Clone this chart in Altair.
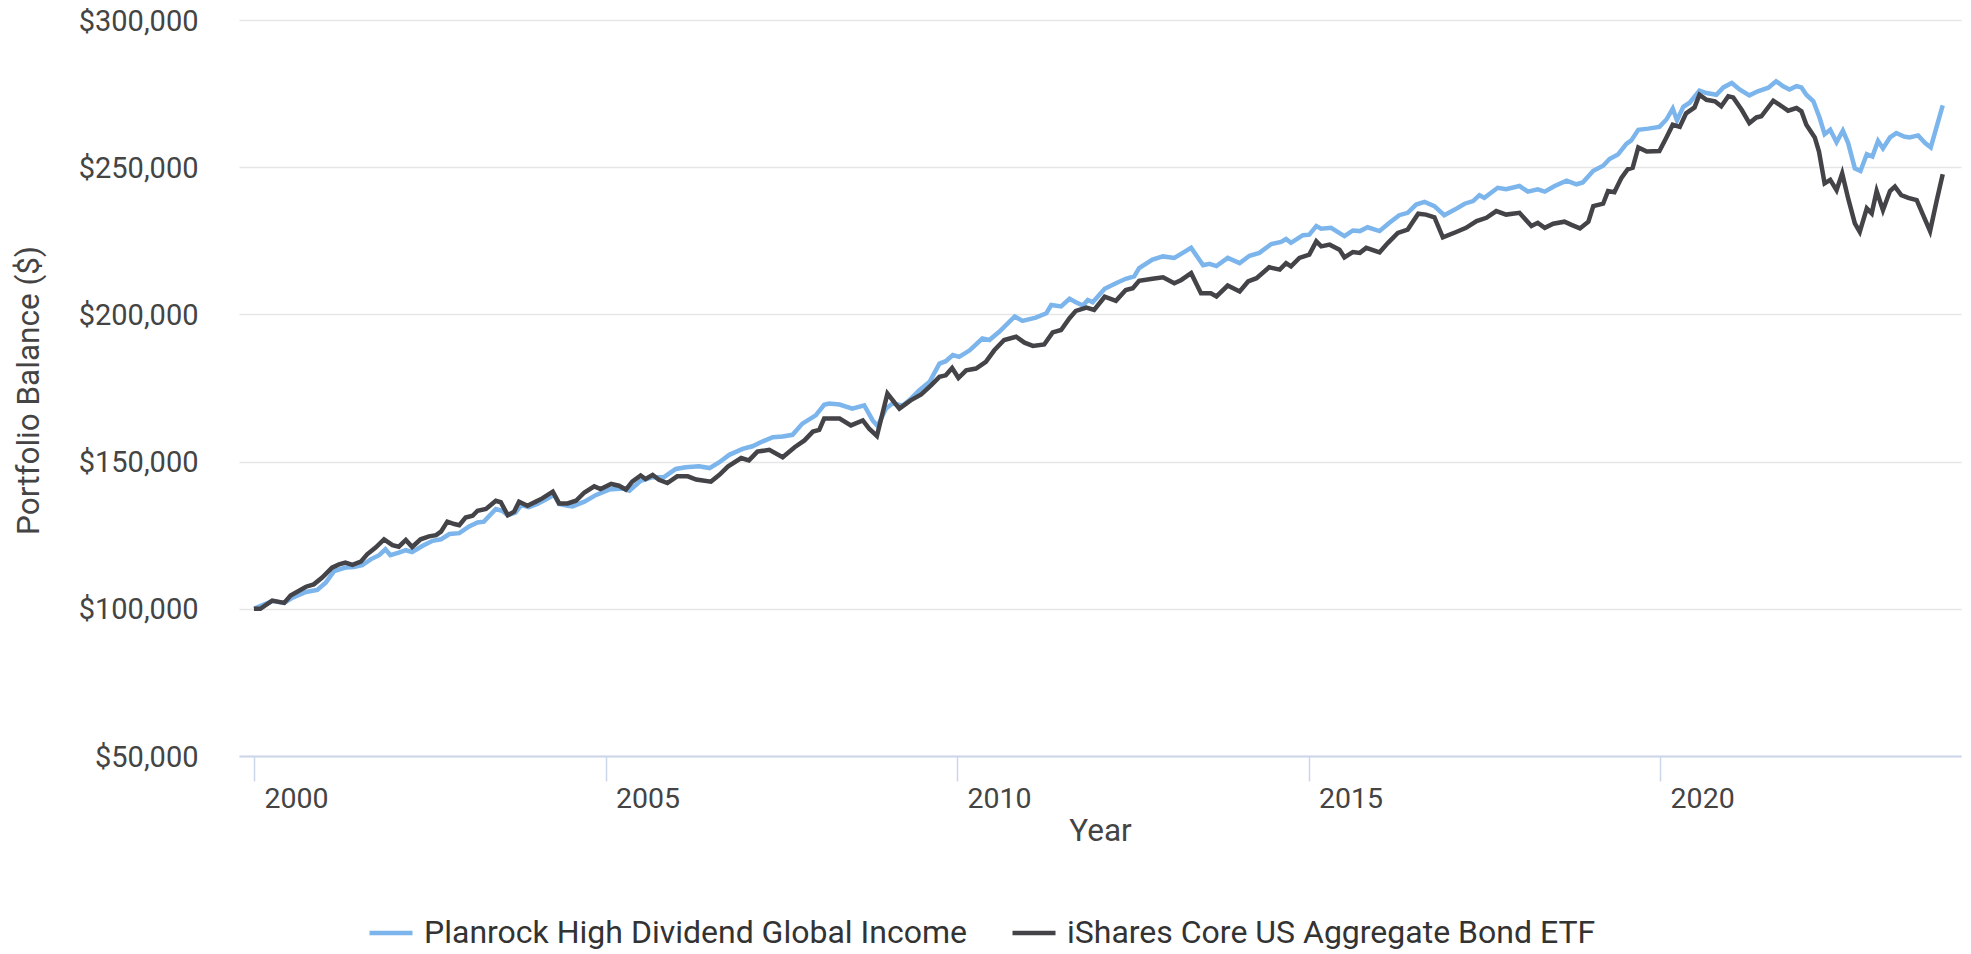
import altair as alt
import pandas as pd

SERIES = ["Planrock High Dividend Global Income", "iShares Core US Aggregate Bond ETF"]
COLORS = ["#7cb5ec", "#434348"]

# Planrock High Dividend Global Income (decimal year, balance in $ thousands)
planrock_years = [
    2000.00, 2000.26, 2000.43, 2000.55, 2000.74, 2000.90, 2001.02, 2001.14, 2001.30, 2001.42,
    2001.54, 2001.66, 2001.78, 2001.87, 2001.94, 2002.06, 2002.16, 2002.25, 2002.40, 2002.54,
    2002.66, 2002.78, 2002.92, 2003.06, 2003.18, 2003.27, 2003.44, 2003.53, 2003.61, 2003.72,
    2003.80, 2003.91, 2004.03, 2004.15, 2004.27, 2004.34, 2004.46, 2004.53, 2004.70, 2004.86,
    2005.05, 2005.24, 2005.34, 2005.50, 2005.67, 2005.83, 2006.00, 2006.14, 2006.33, 2006.48,
    2006.62, 2006.76, 2006.95, 2007.09, 2007.23, 2007.38, 2007.52, 2007.66, 2007.80, 2007.99,
    2008.11, 2008.18, 2008.33, 2008.51, 2008.68, 2008.80, 2008.87, 2008.99, 2009.08, 2009.23,
    2009.32, 2009.46, 2009.61, 2009.75, 2009.84, 2009.94, 2010.03, 2010.18, 2010.36, 2010.46,
    2010.60, 2010.82, 2010.93, 2011.12, 2011.27, 2011.34, 2011.48, 2011.60, 2011.69, 2011.79,
    2011.86, 2011.93, 2012.10, 2012.26, 2012.40, 2012.52, 2012.59, 2012.78, 2012.93, 2013.09,
    2013.21, 2013.33, 2013.50, 2013.59, 2013.69, 2013.85, 2014.02, 2014.16, 2014.30, 2014.47,
    2014.61, 2014.68, 2014.75, 2014.92, 2015.01, 2015.11, 2015.18, 2015.32, 2015.51, 2015.63,
    2015.73, 2015.84, 2016.01, 2016.15, 2016.29, 2016.41, 2016.53, 2016.65, 2016.79, 2016.93,
    2017.08, 2017.22, 2017.34, 2017.43, 2017.50, 2017.69, 2017.81, 2018.00, 2018.12, 2018.26,
    2018.36, 2018.50, 2018.67, 2018.81, 2018.90, 2019.05, 2019.19, 2019.28, 2019.40, 2019.52,
    2019.59, 2019.69, 2019.83, 2019.99, 2020.09, 2020.18, 2020.24, 2020.33, 2020.42, 2020.56,
    2020.66, 2020.80, 2020.90, 2021.02, 2021.13, 2021.27, 2021.39, 2021.54, 2021.65, 2021.75,
    2021.84, 2021.94, 2022.01, 2022.08, 2022.18, 2022.27, 2022.34, 2022.42, 2022.51, 2022.60,
    2022.675, 2022.77, 2022.85, 2022.94, 2023.02, 2023.10, 2023.17, 2023.27, 2023.36, 2023.47,
    2023.55, 2023.67, 2023.77, 2023.85, 2024.02,
]
planrock_k = [
    100.0, 102.6, 102.0, 103.8, 105.7, 106.4, 108.9, 112.8, 114.0, 114.2,
    114.8, 116.8, 118.2, 120.2, 118.2, 119.1, 119.9, 119.3, 121.4, 123.1,
    123.6, 125.4, 125.7, 128.0, 129.3, 129.6, 133.9, 133.3, 131.8, 132.7,
    135.2, 134.5, 135.6, 137.1, 138.7, 135.6, 135.0, 134.8, 136.4, 138.6,
    140.5, 140.9, 140.1, 143.5, 144.7, 144.7, 147.5, 148.1, 148.4, 147.8,
    149.8, 152.3, 154.3, 155.2, 156.8, 158.3, 158.5, 159.1, 162.9, 165.7,
    169.3, 169.7, 169.4, 168.0, 169.1, 164.0, 162.1, 168.0, 169.7, 169.1,
    170.8, 174.2, 177.1, 183.3, 184.1, 186.2, 185.6, 187.8, 191.8, 191.3,
    194.1, 199.3, 197.8, 198.9, 200.4, 203.2, 202.7, 205.3, 204.1, 203.0,
    204.9, 204.1, 208.7, 210.6, 212.1, 212.9, 215.7, 218.6, 219.7, 219.2,
    220.9, 222.6, 216.7, 217.2, 216.4, 219.2, 217.4, 219.9, 220.9, 223.9,
    224.6, 225.6, 224.3, 226.9, 227.1, 230.0, 229.1, 229.4, 226.6, 228.5,
    228.3, 229.6, 228.3, 231.1, 233.7, 234.5, 237.3, 238.2, 236.8, 233.7,
    235.6, 237.6, 238.5, 240.5, 239.6, 243.0, 242.5, 243.6, 241.7, 242.5,
    241.7, 243.6, 245.4, 244.2, 244.8, 248.8, 250.5, 252.8, 254.3, 257.9,
    259.1, 262.7, 263.1, 263.7, 266.2, 269.9, 265.9, 270.5, 271.9, 276.0,
    275.2, 274.6, 277.1, 278.6, 276.4, 274.4, 275.8, 277.0, 279.2, 277.5,
    276.4, 277.5, 277.1, 274.6, 272.4, 266.7, 261.2, 262.7, 258.5, 262.4,
    258.2, 249.6, 248.7, 254.4, 253.6, 258.9, 256.4, 260.1, 261.6, 260.4,
    260.1, 260.8, 258.2, 256.7, 271.0,
]

# iShares Core US Aggregate Bond ETF (decimal year, balance in $ thousands)
ishares_years = [
    2000.00, 2000.09, 2000.26, 2000.43, 2000.52, 2000.74, 2000.85, 2000.97, 2001.11, 2001.21,
    2001.30, 2001.40, 2001.52, 2001.61, 2001.73, 2001.85, 2001.97, 2002.06, 2002.16, 2002.25,
    2002.37, 2002.49, 2002.59, 2002.66, 2002.75, 2002.85, 2002.92, 2003.01, 2003.11, 2003.18,
    2003.30, 2003.44, 2003.51, 2003.61, 2003.70, 2003.77, 2003.89, 2004.01, 2004.10, 2004.25,
    2004.34, 2004.46, 2004.58, 2004.70, 2004.84, 2004.93, 2005.08, 2005.19, 2005.29, 2005.38,
    2005.50, 2005.57, 2005.67, 2005.76, 2005.88, 2006.02, 2006.17, 2006.29, 2006.50, 2006.62,
    2006.74, 2006.93, 2007.04, 2007.16, 2007.33, 2007.52, 2007.69, 2007.83, 2007.95, 2008.04,
    2008.11, 2008.23, 2008.33, 2008.49, 2008.66, 2008.75, 2008.86, 2009.01, 2009.18, 2009.34,
    2009.49, 2009.63, 2009.75, 2009.84, 2009.93, 2010.02, 2010.13, 2010.27, 2010.41, 2010.53,
    2010.67, 2010.84, 2010.96, 2011.08, 2011.24, 2011.36, 2011.48, 2011.60, 2011.69, 2011.84,
    2011.95, 2012.10, 2012.26, 2012.40, 2012.50, 2012.59, 2012.78, 2012.93, 2013.09, 2013.19,
    2013.33, 2013.47, 2013.61, 2013.69, 2013.85, 2014.02, 2014.14, 2014.26, 2014.44, 2014.59,
    2014.68, 2014.75, 2014.87, 2015.01, 2015.11, 2015.18, 2015.30, 2015.44, 2015.51, 2015.63,
    2015.73, 2015.82, 2016.01, 2016.13, 2016.27, 2016.41, 2016.56, 2016.67, 2016.79, 2016.91,
    2017.10, 2017.24, 2017.39, 2017.53, 2017.67, 2017.81, 2018.00, 2018.17, 2018.26, 2018.36,
    2018.48, 2018.64, 2018.74, 2018.86, 2018.98, 2019.05, 2019.19, 2019.26, 2019.35, 2019.45,
    2019.54, 2019.61, 2019.69, 2019.81, 2019.99, 2020.09, 2020.18, 2020.28, 2020.37, 2020.49,
    2020.56, 2020.66, 2020.78, 2020.87, 2020.97, 2021.04, 2021.16, 2021.27, 2021.37, 2021.44,
    2021.61, 2021.73, 2021.82, 2021.94, 2022.01, 2022.08, 2022.20, 2022.26, 2022.34, 2022.42,
    2022.51, 2022.59, 2022.675, 2022.77, 2022.84, 2022.94, 2023.01, 2023.08, 2023.17, 2023.27,
    2023.34, 2023.43, 2023.53, 2023.65, 2023.72, 2023.84, 2023.93, 2024.02,
]
ishares_k = [
    100.0, 100.0, 102.8, 102.0, 104.5, 107.5, 108.3, 110.6, 114.0, 115.1,
    115.7, 114.9, 116.0, 118.5, 120.8, 123.6, 121.6, 121.1, 123.4, 121.0,
    123.6, 124.6, 125.0, 126.2, 129.6, 128.8, 128.4, 131.0, 131.6, 133.3,
    133.9, 136.7, 136.2, 131.8, 133.0, 136.4, 135.0, 136.4, 137.5, 139.8,
    135.8, 135.8, 136.7, 139.5, 141.6, 140.7, 142.4, 141.8, 140.5, 143.2,
    145.3, 144.1, 145.5, 143.8, 142.7, 145.0, 145.0, 143.9, 143.2, 145.5,
    148.3, 151.2, 150.4, 153.4, 154.0, 151.5, 154.9, 157.2, 160.2, 160.8,
    164.6, 164.6, 164.6, 162.3, 164.0, 161.2, 158.7, 173.1, 168.0, 170.8,
    172.8, 175.9, 178.8, 179.3, 181.8, 178.4, 181.0, 181.6, 183.9, 187.8,
    191.3, 192.4, 190.4, 189.3, 189.8, 193.9, 194.7, 198.7, 201.2, 202.3,
    201.5, 206.0, 204.6, 208.3, 208.9, 211.4, 212.1, 212.6, 210.6, 211.7,
    214.0, 207.2, 207.2, 206.1, 209.8, 207.8, 211.2, 212.3, 216.0, 215.2,
    217.4, 216.3, 219.2, 220.3, 224.8, 223.1, 223.7, 222.0, 219.4, 221.2,
    220.9, 222.6, 221.1, 224.3, 227.7, 228.8, 234.2, 233.9, 233.0, 226.2,
    228.0, 229.4, 231.7, 232.8, 235.1, 233.9, 234.5, 230.0, 231.1, 229.4,
    230.8, 231.5, 230.4, 229.2, 231.5, 236.8, 237.6, 241.9, 241.5, 246.4,
    249.3, 249.8, 256.7, 255.3, 255.5, 260.1, 264.4, 263.7, 268.3, 270.3,
    274.6, 272.9, 272.4, 270.7, 274.1, 273.7, 269.5, 265.0, 266.9, 267.3,
    272.6, 270.7, 269.2, 270.1, 269.0, 264.4, 260.1, 255.3, 244.5, 245.7,
    242.2, 247.9, 239.4, 230.9, 228.0, 236.0, 234.3, 241.9, 235.4, 241.9,
    243.4, 240.5, 239.6, 238.8, 234.9, 228.3, 238.2, 247.6,
]

X_TICKS = [2000, 2005, 2010, 2015, 2020]
Y_TICKS = [50000, 100000, 150000, 200000, 250000, 300000]

rows = []
for yr, v in zip(planrock_years, planrock_k):
    rows.append({"year": yr, "balance": v * 1000, "series": SERIES[0]})
for yr, v in zip(ishares_years, ishares_k):
    rows.append({"year": yr, "balance": v * 1000, "series": SERIES[1]})
df = pd.DataFrame(rows)

LABEL_COLOR = "#444444"
FONT = "Roboto"

x_enc = alt.X(
    "year:Q",
    scale=alt.Scale(domain=[1999.787, 2024.28], nice=False, zero=False),
    axis=alt.Axis(
        values=X_TICKS, format="d", title="Year", grid=False,
        domainColor="#ccd6eb", domainWidth=2,
        tickColor="#ccd6eb", tickWidth=1.5, tickSize=25,
        labelAlign="left", labelBaseline="top", labelOffset=10, labelPadding=3,
        labelFontSize=28.5, labelColor=LABEL_COLOR, labelFont=FONT,
        titleFontSize=31.5, titleColor=LABEL_COLOR, titleFont=FONT, titleFontWeight="normal",
        titleX=861, titleY=75, titleBaseline="middle", titleAlign="center",
    ),
)
y_enc = alt.Y(
    "balance:Q",
    scale=alt.Scale(domain=[50000, 300000], nice=False, zero=False),
    axis=alt.Axis(
        values=Y_TICKS, format="$,.0f", title="Portfolio Balance ($)",
        ticks=False, domain=False,
        grid=True, gridColor="#e6e6e6", gridWidth=1.5,
        labelPadding=41, labelBaseline="middle", labelOffset=1,
        labelFontSize=29, labelColor=LABEL_COLOR, labelFont=FONT,
        titleFontSize=31.5, titleColor=LABEL_COLOR, titleFont=FONT, titleFontWeight="normal",
        titleX=-210, titleY=370, titleAngle=270, titleBaseline="middle", titleAlign="center",
    ),
)
color_enc = alt.Color(
    "series:N",
    scale=alt.Scale(domain=SERIES, range=COLORS),
    legend=alt.Legend(
        title=None, orient="none", legendX=128, legendY=889, direction="horizontal",
        symbolType="stroke", symbolSize=1849, symbolStrokeWidth=4.5,
        labelFontSize=32, labelColor="#333333", labelFont=FONT, labelLimit=1000,
        labelOffset=9, columnPadding=36,
    ),
)

base = alt.Chart(df).mark_line(strokeWidth=4.5, clip=True).encode(
    x=x_enc, y=y_enc, color=color_enc
)
blue = base.transform_filter(alt.datum.series == SERIES[0])
dark = base.transform_filter(alt.datum.series == SERIES[1])

chart = (
    alt.layer(blue, dark)
    .properties(
        width=1722,
        height=736,
        autosize=alt.AutoSizeParams(type="none"),
        padding={"left": 231, "top": 12, "right": 2, "bottom": 196},
        background="white",
    )
    .configure_view(stroke=None)
)

chart.save("out.html", embed_options={"renderer": "svg", "actions": False})
